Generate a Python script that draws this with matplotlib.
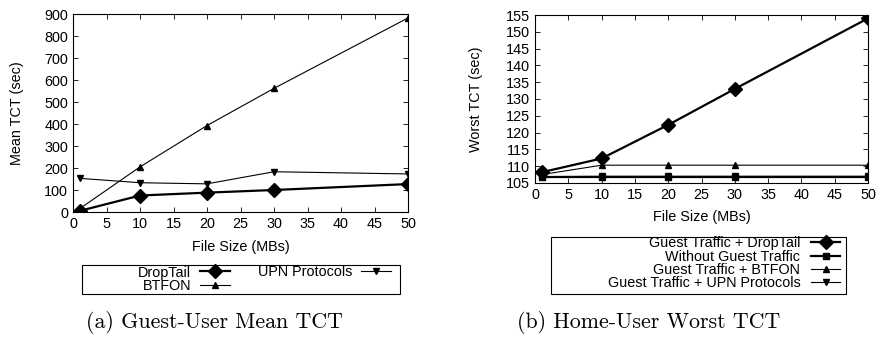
import matplotlib
matplotlib.use("Agg")
import matplotlib.pyplot as plt
from matplotlib.patches import Rectangle

# ---- data ----
file_sizes = [1, 10, 20, 30, 50]

# (a) Guest-User Mean TCT
mean_droptail = [5, 75, 88, 100, 127]
mean_btfon = [15, 205, 393, 562, 882]
mean_upn = [153, 133, 128, 183, 173]

# (b) Home-User Worst TCT
worst_droptail = [108.2, 112.3, 122.3, 133.0, 154.0]
worst_without = [106.7, 106.7, 106.7, 106.7, 106.7]
worst_btfon = [107.5, 110.3, 110.3, 110.3, 110.3]
worst_upn = [106.9, 107.0, 107.0, 107.0, 107.0]

xticks = [0, 5, 10, 15, 20, 25, 30, 35, 40, 45, 50]
left_yticks = list(range(0, 901, 100))
right_yticks = list(range(105, 156, 5))

W, H = 877, 337
plt.rcParams['font.family'] = ['Liberation Sans', 'DejaVu Sans']
fig = plt.figure(figsize=(W / 100, H / 100), dpi=100)

def ax_at(l, t, r, b):
    return fig.add_axes([l / W, 1 - b / H, (r - l) / W, (b - t) / H])

def fpt(x, y):
    return (x / W, 1 - y / H)

axL = ax_at(73, 14, 408, 212)
axR = ax_at(535, 15, 868, 183)

fs = 10.4
for ax in (axL, axR):
    ax.tick_params(direction='in', top=True, right=True, labelsize=fs, length=3.5, width=0.6, pad=3.5)
    for s in ax.spines.values():
        s.set_linewidth(0.8)
    ax.set_xlim(0, 50)
    ax.set_xticks(xticks)
    ax.set_xlabel('File Size (MBs)', fontsize=fs)

# left
axL.plot(file_sizes, mean_droptail, color='black', lw=1.6, marker='D', ms=7, label='DropTail')
axL.plot(file_sizes, mean_btfon, color='black', lw=0.8, marker='^', ms=4, label='BTFON')
axL.plot(file_sizes, mean_upn, color='black', lw=0.8, marker='v', ms=4, label='UPN Protocols')
axL.set_ylim(0, 900)
axL.set_yticks(left_yticks)
axL.set_ylabel('Mean TCT (sec)', fontsize=fs)
axL.yaxis.set_label_coords((24 - 73) / 335, 0.5)
axL.xaxis.set_label_coords(0.5, -(240 - 212) / 198)

legL = axL.legend(loc='upper right', bbox_to_anchor=fpt(391, 265.5), bbox_transform=fig.transFigure,
                  ncol=2, markerfirst=False, fontsize=fs, frameon=False, handlelength=2.1,
                  borderpad=0, labelspacing=-0.05, handletextpad=0.6, columnspacing=1.9,
                  borderaxespad=0)
fig.patches.append(Rectangle(fpt(82, 294), (400 - 82) / W, (294 - 265) / H,
                             transform=fig.transFigure, fill=False, lw=0.8, edgecolor='black'))

# right
axR.plot(file_sizes, worst_droptail, color='black', lw=1.6, marker='D', ms=7, label='Guest Traffic + DropTail')
axR.plot(file_sizes, worst_without, color='black', lw=1.6, marker='s', ms=5, label='Without Guest Traffic')
axR.plot(file_sizes, worst_btfon, color='black', lw=0.8, marker='^', ms=4, label='Guest Traffic + BTFON')
axR.plot(file_sizes, worst_upn, color='black', lw=0.8, marker='v', ms=4, label='Guest Traffic + UPN Protocols')
axR.set_ylim(105, 155)
axR.set_yticks(right_yticks)
axR.set_ylabel('Worst TCT (sec)', fontsize=fs)
axR.yaxis.set_label_coords((483 - 535) / 333, 0.5)
axR.xaxis.set_label_coords(0.5, -(210 - 183) / 168)

legR = axR.legend(loc='upper right', bbox_to_anchor=fpt(840, 236.5), bbox_transform=fig.transFigure,
                  ncol=1, markerfirst=False, fontsize=fs, frameon=False, handlelength=2.0,
                  borderpad=0, labelspacing=-0.05, handletextpad=0.75, borderaxespad=0)
fig.patches.append(Rectangle(fpt(551, 294), (846 - 551) / W, (294 - 237) / H,
                             transform=fig.transFigure, fill=False, lw=0.8, edgecolor='black'))

# captions
fig.text(214 / W, 1 - 323 / H, '(a) Guest-User Mean TCT', family='cmr10', fontsize=15.8, ha='center', va='center')
fig.text(649 / W, 1 - 323 / H, '(b) Home-User Worst TCT', family='cmr10', fontsize=15.8, ha='center', va='center')

fig.savefig('out.png', dpi=100)
